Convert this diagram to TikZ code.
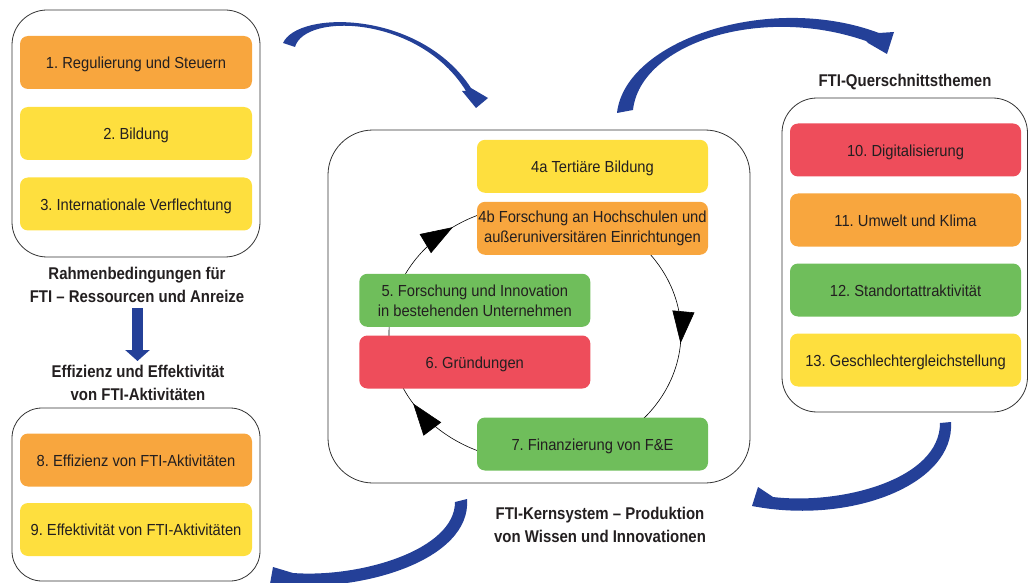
\documentclass[tikz,border=0pt]{standalone}
\usepackage{fontspec}
\newfontfamily\boxfont{Liberation Sans}[FakeStretch=0.92]
\newfontfamily\labfont{Liberation Sans}[FakeStretch=0.88]
\frenchspacing
\usetikzlibrary{arrows.meta,decorations.markings}
\definecolor{org}{RGB}{248,166,62}
\definecolor{yel}{RGB}{254,223,62}
\definecolor{rd}{RGB}{238,77,91}
\definecolor{grn}{RGB}{111,190,91}
\definecolor{blu}{RGB}{36,64,152}
\definecolor{txt}{RGB}{35,31,32}
\begin{document}
\begin{tikzpicture}[x=1pt,y=-1pt,
  item/.style={rounded corners=8pt, minimum width=232pt, minimum height=53pt, inner sep=0pt, align=center, font=\boxfont\fontsize{16}{20}\selectfont, text=txt},
  one/.style={text height=12.5pt, text depth=0pt},
  cont/.style={draw=black!80, line width=0.8pt},
  lab/.style={font=\labfont\bfseries\fontsize{17}{23}\selectfont, align=center, text=txt, inner sep=0pt},
  swoosh/.style={fill=blu},
  cyc/.style={draw=black, line width=0.6pt}
]
\useasboundingbox (0,0) rectangle (1029,583);

% containers
\draw[cont, rounded corners=35pt] (12,10) rectangle (260,257);
\draw[cont, rounded corners=30pt] (12,408) rectangle (260,581);
\draw[cont, rounded corners=45pt] (328,130) rectangle (750,483);
\draw[cont, rounded corners=35pt] (782,98) rectangle (1027.5,412);

% cycle
\draw[cyc, postaction={decorate}, decoration={markings,
   mark=at position 0.262 with {\arrow{Triangle[length=32pt,width=22pt]}},
   mark=at position 0.662 with {\arrow{Triangle[length=32pt,width=22pt]}},
   mark=at position 0.90 with {\arrow{Triangle[length=32pt,width=22pt]}}}]
  (535,205) arc[start angle=90, end angle=-270, x radius=146pt, y radius=128pt];

% left top boxes
\node[item, one, fill=org] (b1) at (136,62.5) {1. Regulierung und Steuern};
\node[item, one, fill=yel] (b2) at (136,133.5) {2. Bildung};
\node[item, one, fill=yel] (b3) at (136,204) {3. Internationale Verflechtung};
% left bottom boxes
\node[item, one, fill=org] (b8) at (136,460) {8. Effizienz von FTI-Aktivitäten};
\node[item, one, fill=yel] (b9) at (136,529.5) {9. Effektivität von FTI-Aktivitäten};
% centre boxes
\node[item, one, fill=yel, minimum width=231pt] (b4a) at (592.5,166.3) {4a Tertiäre Bildung};
\node[item, fill=org, minimum width=231pt] (b4b) at (592.5,228.3) {4b Forschung an Hochschulen und\\außeruniversitären Einrichtungen};
\node[item, fill=grn, minimum width=231pt] (b5) at (474.8,300.3) {5. Forschung und Innovation\\in bestehenden Unternehmen};
\node[item, one, fill=rd, minimum width=231pt] (b6) at (474.8,362) {6. Gründungen};
\node[item, one, fill=grn, minimum width=231pt] (b7) at (592.5,444) {7. Finanzierung von F\&E};
% right boxes
\node[item, one, fill=rd, minimum width=231pt] (b10) at (905.5,150) {10. Digitalisierung};
\node[item, one, fill=org, minimum width=231pt] (b11) at (905.5,220) {11. Umwelt und Klima};
\node[item, one, fill=grn, minimum width=231pt] (b12) at (905.5,290) {12. Standortattraktivität};
\node[item, one, fill=yel, minimum width=231pt] (b13) at (905.5,360) {13. Geschlechtergleichstellung};

% labels
\node[lab, anchor=north] (l1) at (137,266.5) {Rahmenbedingungen für\\FTI – Ressourcen und Anreize};
\node[lab, anchor=north] (l2) at (138,364.5) {Effizienz und Effektivität\\von FTI-Aktivitäten};
\node[lab, anchor=north] (l3) at (600,506.5) {FTI-Kernsystem – Produktion\\von Wissen und Innovationen};
\node[lab, anchor=base] (l4) at (905,87) {FTI-Querschnittsthemen};

% down arrow
\coordinate (d1) at (137.5,308);
\coordinate (d2) at (137.5,361);
\draw[blu, line width=11pt, -{Triangle[length=11pt,width=24pt]}] (d1) -- (d2);

% blue swooshes
\fill[swoosh] (283,43) .. controls (298,10) and (420,10) .. (471,88) -- (488,98) -- (476,108) -- (462,91) -- (466,91) .. controls (420,16) and (305,12) .. (295,47) -- cycle;
\fill[swoosh] (617,113) .. controls (625,40) and (770,-8) .. (879,33) -- (894,32) -- (887,54) -- (868,43) -- (866,41) .. controls (760,4) and (640,44) .. (633,110) -- cycle;
\fill[swoosh] (951,422) .. controls (955,485) and (850,525) .. (752,506) -- (758,487) -- (773,497) .. controls (840,505) and (940,480) .. (940,423) -- cycle;
\fill[swoosh] (467,499) .. controls (472,560) and (360,595) .. (270,584) -- (273,567) -- (293,573) .. controls (360,578) and (455,550) .. (455,502) -- cycle;
\end{tikzpicture}
\end{document}
